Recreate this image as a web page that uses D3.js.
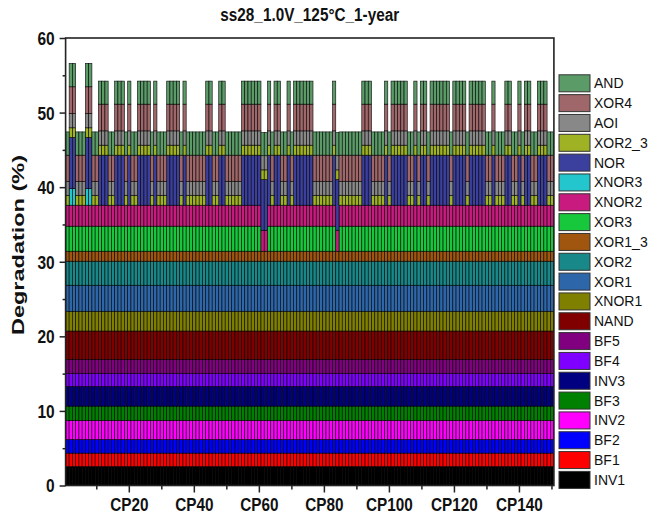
<!DOCTYPE html>
<html><head><meta charset="utf-8">
<script src="https://cdn.jsdelivr.net/npm/d3@7"></script>
<style>body{margin:0;background:#fff}svg{display:block}</style>
</head><body><svg id="c" width="649" height="520"></svg>
<script>
// ---- data ----
const series = ["INV1","BF1","BF2","INV2","BF3","INV3","BF4","BF5","NAND","XNOR1","XOR1","XOR2","XOR1_3","XOR3","XNOR2","XNOR3","NOR","XOR2_3","AOI","XOR4","AND"];
const colors = ["#000000","#ff0000","#0000ff","#ff00ff","#008000","#000080","#8000ff","#800080","#800000","#808000","#2e66aa","#188888","#a0560f","#18c83c","#c91b7f","#22c6cc","#3b3f9e","#9fb223","#888888","#a0676a","#5a9b68"];
// lower gates: identical in every critical path
const lowerValues = [2.55,1.79,1.83,2.55,1.92,2.65,1.74,1.88,3.80,2.65,3.49,3.22,1.34,3.36,2.81];
// upper gates per path type
const typeA = {XNOR3:0,    NOR:0,    XOR2_3:1.33, AOI:1.88, XOR4:3.50, AND:3.12};
const typeB = {XNOR3:0,    NOR:6.71, XOR2_3:1.34, AOI:1.92, XOR4:3.58, AND:3.09};
const typeC = {XNOR3:2.24, NOR:6.85, XOR2_3:1.29, AOI:1.93, XOR4:3.57, AND:3.14};
const typeD = {XOR3:0, XNOR3:0, NOR:6.80, XOR2_3:1.30, AOI:1.90, XOR4:0, AND:3.10};
// path type of CP1..CP150, ten per string
const pathTypes = ["ACCAAACCAA","BBBAABBBAB","AABBBBABAA","ABBBBABAAA","AAABBAABBA",
                   "AAAABBBBBB","DDBABBAABA","BBBBBBAAAA","AABDAAAAAA","ABBBAAAABA",
                   "BBBBBAABAB","BABBBBBBAB","BBBABBBBBA","ABAAABBAAB","ABBAABBBAA"];
const xMajorTicks = ["CP20","CP40","CP60","CP80","CP100","CP120","CP140"];
const xMinorTicks = ["CP10","CP30","CP50","CP70","CP90","CP110","CP130","CP150"];
const yMajorTicks = [0,10,20,30,40,50,60];
const yMinorTicks = [5,15,25,35,45,55];
const title = "ss28_1.0V_125\u00B0C_1-year";
const yTitle = "Degradation (%)";

// ---- build table ----
const types = {A:typeA,B:typeB,C:typeC,D:typeD};
const typeSeq = pathTypes.join("").split("");
const categories = typeSeq.map((t,i)=>"CP"+(i+1));
const rows = typeSeq.map((t,i)=>{
  const r = {cp:categories[i]};
  lowerValues.forEach((v,k)=>r[series[k]]=v);
  Object.assign(r, types[t]);
  return r;
});

// ---- chart ----
const svg = d3.select("#c");
const L = 65.9, R = 553.6, T = 38, B = 485.5;
const x = d3.scaleBand().domain(categories).range([L,R]).padding(0);
const y = d3.scaleLinear().domain([0,60]).range([B,T]);
const color = d3.scaleOrdinal().domain(series).range(colors);
const stack = d3.stack().keys(series)(rows);

const g = svg.append("g");
stack.forEach(layer=>{
  g.append("g").attr("fill",color(layer.key))
   .selectAll("rect").data(layer.filter(d=>d[1]-d[0]>0)).join("rect")
   .attr("x",d=>x(d.data.cp)).attr("width",x.bandwidth())
   .attr("y",d=>y(d[1])).attr("height",d=>y(d[0])-y(d[1]))
   .attr("stroke","#000").attr("stroke-width",0.65).attr("stroke-opacity",0.9);
});

const font = "'Liberation Sans', Arial, sans-serif";
function squeeze(sel,f){sel.each(function(){const w=this.getComputedTextLength();d3.select(this).attr("textLength",w*f).attr("lengthAdjust","spacingAndGlyphs");});}

// frame
svg.append("rect").attr("x",L-0.3).attr("y",T).attr("width",R-L+0.6).attr("height",B-T)
  .attr("fill","none").attr("stroke","#222").attr("stroke-width",1.6);

// y axis
const yAx = svg.append("g").attr("transform",`translate(${L-0.3},0)`)
  .call(d3.axisLeft(y).tickValues(yMajorTicks).tickSize(6).tickPadding(5).tickFormat(d3.format("d")));
svg.append("g").attr("transform",`translate(${L-0.3},0)`)
  .call(d3.axisLeft(y).tickValues(yMinorTicks).tickSize(3).tickFormat(""));
// x axis
const xAx = svg.append("g").attr("transform",`translate(0,${B})`)
  .call(d3.axisBottom(x).tickValues(xMajorTicks).tickSize(7).tickPadding(6));
svg.append("g").attr("transform",`translate(0,${B})`)
  .call(d3.axisBottom(x).tickValues(xMinorTicks).tickSize(4).tickFormat(""));
svg.selectAll(".domain").remove();
svg.selectAll(".tick line").attr("stroke","#222").attr("stroke-width",1.5);
yAx.selectAll("text").attr("font-family",font).attr("font-weight","bold").attr("font-size",18).attr("fill","#111").attr("dy","0.36em").call(squeeze,0.86);
xAx.selectAll("text").attr("font-family",font).attr("font-weight","bold").attr("font-size",18).attr("fill","#111").call(squeeze,0.85);

// title
svg.append("text").attr("x",(L+R)/2).attr("y",21).attr("text-anchor","middle")
  .attr("font-family",font).attr("font-weight","bold").attr("font-size",18).attr("fill","#111")
  .text(title).call(squeeze,0.85);
// y title
svg.append("text").attr("transform",`translate(24,245) rotate(-90)`).attr("text-anchor","middle")
  .attr("font-family",font).attr("font-weight","bold").attr("font-size",17).attr("fill","#111")
  .text(yTitle).attr("textLength",180).attr("lengthAdjust","spacingAndGlyphs");

// legend
const legendKeys = series.slice().reverse();
const leg = svg.append("g").selectAll("g").data(legendKeys).join("g")
  .attr("transform",(d,i)=>`translate(559,${83.3+i*19.83})`);
leg.append("rect").attr("x",0).attr("y",-8.5).attr("width",31).attr("height",17)
  .attr("fill",d=>color(d)).attr("stroke","#333").attr("stroke-width",1);
leg.append("text").attr("x",35).attr("y",0).attr("dy","0.36em")
  .attr("font-family",font).attr("font-size",14).attr("fill","#111").text(d=>d);
</script></body></html>
